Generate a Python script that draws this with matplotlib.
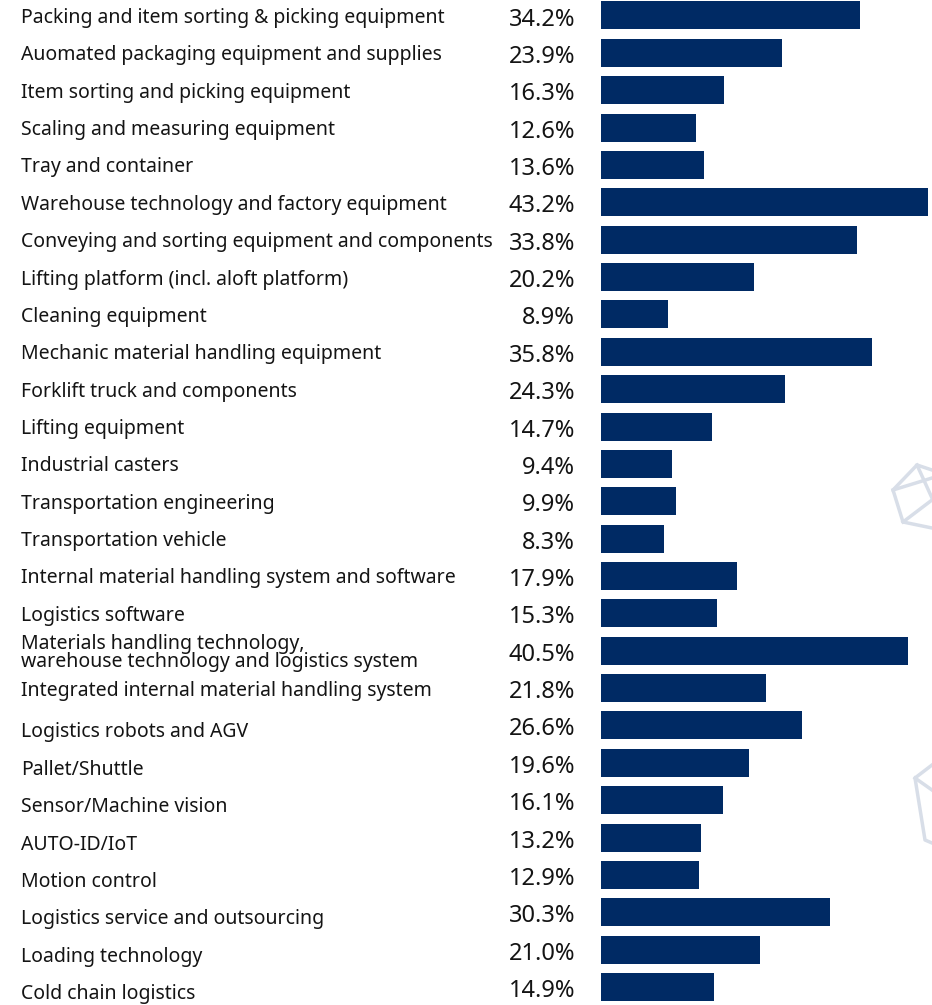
import matplotlib.pyplot as plt
from matplotlib.transforms import blended_transform_factory
from matplotlib.lines import Line2D

categories = [
    "Packing and item sorting & picking equipment",
    "Auomated packaging equipment and supplies",
    "Item sorting and picking equipment",
    "Scaling and measuring equipment",
    "Tray and container",
    "Warehouse technology and factory equipment",
    "Conveying and sorting equipment and components",
    "Lifting platform (incl. aloft platform)",
    "Cleaning equipment",
    "Mechanic material handling equipment",
    "Forklift truck and components",
    "Lifting equipment",
    "Industrial casters",
    "Transportation engineering",
    "Transportation vehicle",
    "Internal material handling system and software",
    "Logistics software",
    "Materials handling technology,\nwarehouse technology and logistics system",
    "Integrated internal material handling system",
    "Logistics robots and AGV",
    "Pallet/Shuttle",
    "Sensor/Machine vision",
    "AUTO-ID/IoT",
    "Motion control",
    "Logistics service and outsourcing",
    "Loading technology",
    "Cold chain logistics",
]
shares = [34.2, 23.9, 16.3, 12.6, 13.6, 43.2, 33.8, 20.2, 8.9, 35.8, 24.3, 14.7,
          9.4, 9.9, 8.3, 17.9, 15.3, 40.5, 21.8, 26.6, 19.6, 16.1, 13.2, 12.9,
          30.3, 21.0, 14.9]

navy = "#002a64"
ink = "#141414"
W, H = 932, 1005

plt.rcParams['font.family'] = ['Noto Sans', 'DejaVu Sans']
fig = plt.figure(figsize=(W / 100, H / 100), dpi=100)
fig.patch.set_facecolor("white")

# faint polygon decorations on the right edge
deco = [
    [(932, 470), (917, 465), (893, 490), (903, 522), (932, 528)],
    [(917, 465), (932, 498)],
    [(893, 490), (932, 478)],
    [(903, 522), (932, 500)],
    [(932, 765), (915, 778), (925, 840), (932, 843)],
    [(915, 778), (932, 790)],
]
for pts in deco:
    xs = [p[0] / W for p in pts]
    ys = [1 - p[1] / H for p in pts]
    fig.add_artist(Line2D(xs, ys, color="#d8dee8", lw=2.5, transform=fig.transFigure))

left = 601 / W
ax = fig.add_axes([left, 0, 1 - left, 1])
n = len(categories)
row = (987 - 15.5) / (n - 1)
ax.set_ylim(n - 1 + (H - 987) / row, -15.5 / row)
ax.set_xlim(0, (W - 601) / 7.57)
ax.barh(range(n), shares, height=28 / row, color=navy, align="center")
ax.axis("off")

tr = blended_transform_factory(fig.transFigure, ax.transData)
for i, (cat, v) in enumerate(zip(categories, shares)):
    # rows after the two-line label sit a little lower
    dy = 2.5 if i <= 18 else 7
    ax.text(21 / W, i + dy / row, cat, transform=tr, ha="left", va="center",
            fontsize=14, color=ink, linespacing=0.85)
    ax.text(575 / W, i + 4 / row, f"{v:.1f}%", transform=tr, ha="right", va="center",
            fontsize=17, color=ink)

fig.savefig("out.png", dpi=100)
